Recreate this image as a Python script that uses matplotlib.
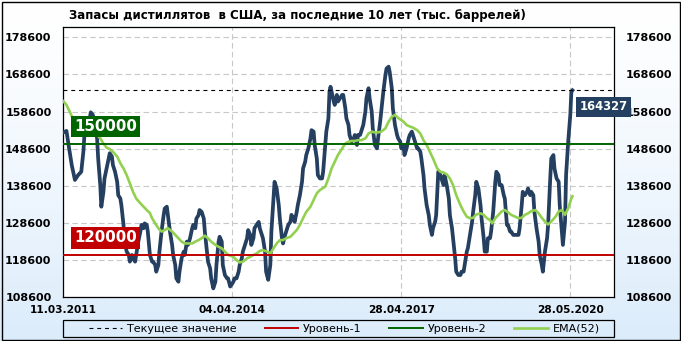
import numpy as np
import matplotlib
matplotlib.use("Agg")
import matplotlib.pyplot as plt
from matplotlib.patches import Rectangle
import matplotlib.transforms as mtransforms

# weekly stocks, thousand barrels (week index from 11.03.2011)
weeks = [0, 3, 5, 8, 11, 14, 17, 19, 20, 24, 26, 28, 30, 32, 33, 35, 36, 38, 39, 41,
         43, 44, 46, 47, 49, 51, 52, 54, 55, 57, 58, 60, 62, 63, 65, 66, 68, 69, 71, 73,
         74, 76, 77, 79, 80, 82, 84, 85, 87, 88, 90, 91, 93, 95, 96, 98, 99, 101, 103, 104,
         106, 107, 109, 110, 112, 114, 115, 117, 118, 120, 122, 123, 125, 126, 128, 129, 131, 133, 134, 136,
         137, 139, 140, 142, 144, 145, 147, 148, 150, 151, 153, 155, 156, 158, 159, 161, 162, 164, 166, 167,
         169, 170, 172, 174, 175, 177, 178, 180, 181, 183, 185, 186, 188, 189, 191, 192, 194, 196, 197, 199,
         200, 202, 204, 205, 207, 208, 210, 211, 213, 215, 216, 218, 219, 221, 222, 224, 226, 227, 229, 230,
         232, 234, 235, 237, 238, 240, 241, 243, 245, 246, 248, 249, 251, 252, 253, 256, 257, 259, 260, 262,
         264, 265, 267, 268, 270, 271, 273, 275, 276, 278, 279, 281, 282, 284, 286, 287, 289, 290, 292, 293,
         295, 297, 298, 300, 301, 303, 305, 306, 308, 309, 311, 312, 314, 316, 317, 319, 320, 322, 323, 325,
         327, 328, 330, 331, 333, 335, 336, 338, 339, 341, 342, 344, 346, 347, 349, 350, 352, 353, 355, 357,
         358, 360, 361, 363, 365, 366, 368, 369, 371, 372, 374, 376, 377, 379, 380, 382, 383, 385, 387, 388,
         390, 391, 393, 395, 396, 398, 399, 401, 402, 404, 405, 407, 409, 410, 412, 413, 415, 417, 418, 420,
         421, 423, 424, 426, 428, 429, 431, 432, 434, 435, 437, 439, 440, 442, 443, 445, 446, 448, 450, 451,
         453, 454, 456, 458, 459, 461, 462, 464, 465, 467, 469, 470, 472, 473, 475, 476, 478, 480, 481, 482]
stocks = [153000, 153400, 149600, 144200, 140200, 141500, 142400, 147800, 152300, 155000,
          158400, 157700, 155000, 151400, 146000, 138800, 133000, 137000, 140600, 143300,
          146000, 147400, 146500, 144200, 142400, 139700, 136100, 135200, 133400, 128100,
          123600, 120900, 120000, 118200, 120000, 119100, 118200, 120000, 123600, 126300,
          128100, 127200, 128500, 128100, 126300, 120000, 118200, 118200, 117300, 115500,
          117300, 120900, 126300, 130700, 132500, 133000, 130700, 126300, 122700, 120000,
          117300, 113700, 112800, 115500, 119100, 120900, 120000, 123600, 122700, 124500,
          127200, 128100, 127200, 129800, 130700, 132100, 131600, 129800, 126300, 120900,
          118200, 116400, 113700, 111000, 112800, 117300, 123600, 124900, 123600, 117300,
          114600, 113700, 113700, 111500, 111900, 112800, 113700, 113700, 115500, 117300,
          119100, 120900, 122700, 124500, 126700, 125400, 122700, 124500, 127200, 128100,
          128900, 127200, 125400, 124500, 120900, 115500, 113300, 117300, 126300, 135200,
          139700, 137900, 133400, 129800, 124500, 123100, 125400, 126300, 128100, 128900,
          130800, 129800, 128900, 131600, 133400, 136100, 139700, 143300, 145100, 146900,
          148700, 151400, 153600, 153200, 149600, 146000, 141500, 140600, 140600, 142400,
          149600, 153200, 156800, 164000, 165300, 161300, 160400, 163100, 161300, 162200,
          163100, 163100, 159500, 156800, 155000, 152300, 150500, 151400, 152300, 149600,
          152300, 152300, 153200, 155000, 158600, 162200, 164900, 162200, 158600, 154100,
          149600, 148700, 151400, 155900, 158600, 164000, 168500, 170200, 170700, 169300,
          164900, 159500, 155000, 152300, 151400, 150500, 148700, 149600, 146900, 148700,
          151400, 152300, 153200, 152300, 150500, 148700, 148700, 147800, 146000, 141500,
          137900, 133400, 130700, 128100, 125400, 127200, 128900, 130700, 142400, 141500,
          140600, 138800, 141500, 138800, 135200, 130700, 127200, 124500, 119100, 115500,
          114600, 114600, 115500, 115500, 117300, 120900, 121800, 125400, 128900, 131600,
          136100, 139700, 137900, 133400, 129800, 124500, 120900, 120900, 124500, 124500,
          126300, 131600, 139700, 142400, 141500, 138800, 138800, 136100, 135200, 128100,
          128100, 126300, 126300, 125400, 125400, 125400, 125400, 127200, 133400, 137000,
          136100, 137000, 137900, 136100, 137000, 136100, 131600, 127200, 123600, 120000,
          117300, 115500, 120900, 124500, 128100, 140600, 146000, 146900, 143300, 140600,
          139700, 133400, 126300, 122700, 129000, 141500, 150500, 157700, 164000, 164327]

# EMA(52)
ema_weeks = [0, 3, 6, 9, 13, 16, 19, 22, 25, 28, 32, 35, 38, 41, 44, 47, 51, 54, 57, 60,
             63, 66, 69, 73, 76, 79, 82, 84, 87, 90, 93, 96, 99, 103, 106, 109, 112, 115, 118, 122,
             125, 128, 131, 134, 137, 140, 144, 147, 150, 153, 156, 158, 161, 164, 167, 170, 174, 177, 180, 183,
             186, 189, 193, 196, 199, 202, 205, 208, 211, 215, 218, 221, 224, 227, 230, 234, 237, 240, 243, 248,
             251, 254, 257, 260, 264, 267, 270, 273, 276, 279, 282, 286, 289, 292, 295, 298, 301, 305, 308, 311,
             314, 317, 320, 322, 325, 328, 331, 335, 338, 341, 344, 347, 350, 354, 357, 360, 363, 366, 369, 372,
             376, 379, 382, 385, 388, 391, 395, 398, 401, 404, 406, 409, 412, 415, 418, 421, 424, 428, 431, 434,
             437, 440, 443, 447, 450, 453, 456, 459, 462, 466, 469, 472, 475, 478, 481, 482]
ema_vals = [161400, 160400, 158600, 156800, 155900, 155000, 154100, 153200, 153200, 152700,
            152300, 151400, 150000, 148900, 148500, 147800, 146500, 144700, 143300, 141500,
            139300, 137000, 135200, 133900, 133000, 132100, 131300, 129900, 128500, 127200,
            126300, 126700, 127200, 126300, 125400, 124500, 123600, 123100, 123100, 123100,
            123600, 124000, 124500, 125200, 124500, 123600, 122700, 122200, 121800, 120900,
            120000, 119800, 119500, 118600, 118000, 118200, 119100, 119500, 120000, 120400,
            121100, 121300, 120900, 120400, 121800, 123100, 124000, 124000, 124500, 124900,
            125800, 126700, 128100, 129900, 131600, 133000, 134800, 136600, 137500, 138400,
            140600, 143300, 145100, 146900, 148700, 150000, 150500, 150700, 150700, 150900,
            150900, 151400, 152700, 153200, 153000, 153000, 153200, 154100, 155900, 157200,
            157700, 156900, 156300, 155900, 155000, 154600, 154300, 153600, 152700, 150900,
            149600, 147800, 146000, 143300, 142400, 142200, 141700, 140600, 138800, 136100,
            133400, 131700, 130300, 129900, 130000, 130900, 131200, 130800, 129900, 129400,
            128500, 129900, 130800, 131700, 132100, 131500, 130800, 130300, 129900, 130000,
            130800, 131200, 131800, 132100, 131200, 130000, 129000, 128200, 129000, 130300,
            131700, 132100, 130800, 132600, 135200, 135800]

level_1 = 120000
level_2 = 150000
current = stocks[-1]

tick_weeks = [0, 160, 320, 480]
tick_dates = ["11.03.2011", "04.04.2014", "28.04.2017", "28.05.2020"]
y_ticks = list(range(108600, 178601, 10000))

title = "Запасы дистиллятов  в США, за последние 10 лет (тыс. баррелей)"
legend_labels = ["Текущее значение", "Уровень-1", "Уровень-2", "EMA(52)"]

W, H = 681, 341
plt.rcParams['font.family'] = ['DejaVu Sans']
fig = plt.figure(figsize=(W / 100, H / 100), dpi=100)

# background gradient
bg = fig.add_axes([0, 0, 1, 1], zorder=-10)
grad = np.linspace(0, 1, 256).reshape(-1, 1)
top = np.array([1.0, 1.0, 1.0])
bot = np.array([0.86, 0.925, 0.985])
img = top + (bot - top) * grad[:, :, None] ** 1.3
bg.imshow(img, aspect='auto', extent=[0, 1, 0, 1], origin='upper')
bg.set_axis_off()
fig.patches.append(Rectangle((1.5 / W, 1.5 / H), (W - 3) / W, (H - 3) / H,
                             transform=fig.transFigure, fill=False,
                             edgecolor='black', linewidth=1.0))

L, R, T, B = 63.3, 614, 26.7, 297.3
ax = fig.add_axes([L / W, (H - B) / H, (R - L) / W, (B - T) / H])
ax.set_facecolor('white')

navy = '#243f60'
ax.plot(weeks, stocks, color=navy, lw=2.7, solid_joinstyle='round', zorder=3)
ema_line, = ax.plot(ema_weeks, ema_vals, color='#92d050', lw=1.9, zorder=4)
cur_line = ax.axhline(current, color='black', lw=0.8, ls=(0, (3.5, 3.5)), zorder=5)
l1_line = ax.axhline(level_1, color='#c00000', lw=1.4, zorder=5)
l2_line = ax.axhline(level_2, color='#006400', lw=1.4, zorder=5)

ax.set_xlim(0, (R - L) / 1.05625)
ax.set_ylim(108600, 108600 + (B - T) / 37.14 * 10000)
ax.set_yticks(y_ticks)
ax.set_xticks(tick_weeks)
ax.set_xticklabels(tick_dates)
ax.tick_params(axis='y', length=0, pad=8.5, labelsize=8, left=True, right=True,
               labelleft=True, labelright=True)
ax.tick_params(axis='x', length=0, pad=5.5, labelsize=7.6)
for lab in ax.get_yticklabels() + ax.get_xticklabels():
    lab.set_fontweight('bold')
ax.grid(True, color='#c8c8c8', lw=0.8, ls=(0, (5, 3)), zorder=1)
for s in ax.spines.values():
    s.set_linewidth(0.9)
    s.set_color('black')

# level tags
blend = mtransforms.blended_transform_factory(ax.transAxes, ax.transData)
tag_tr = mtransforms.offset_copy(blend, fig=fig, x=0, y=17, units='dots')
for val, col in [(level_2, '#006400'), (level_1, '#c00000')]:
    ax.text(42 / (R - L), val, f"{val}", transform=tag_tr,
            ha='center', va='center', color='white', fontsize=10.8, fontweight='bold',
            bbox=dict(boxstyle='square,pad=0.22', fc=col, ec='none'), zorder=10)

ax.annotate(f"{current}", xy=(weeks[-1], current), xytext=(22.5, -12),
            textcoords='offset points', ha='center', va='center', color='white',
            fontsize=8.3, fontweight='bold', zorder=10, annotation_clip=False,
            bbox=dict(boxstyle='square,pad=0.3', fc=navy, ec='none'))

fig.text(297 / W, 1 - 15 / H, title, ha='center', va='center',
         fontsize=8.5, fontweight='bold')

# legend
fig.patches.append(Rectangle((L / W, (H - 337) / H), (R - L) / W, 17 / H,
                             transform=fig.transFigure, fill=False,
                             edgecolor='black', linewidth=0.9))
handles = [cur_line, l1_line, l2_line, ema_line]
leg = fig.legend(handles, legend_labels, loc='center left', ncol=4,
                 bbox_to_anchor=(89 / W, 1 - 328.5 / H), frameon=False,
                 fontsize=8, handlelength=3.0, handletextpad=0.45,
                 columnspacing=2.5, borderpad=0, borderaxespad=0)

fig.savefig("out.png", dpi=100)
